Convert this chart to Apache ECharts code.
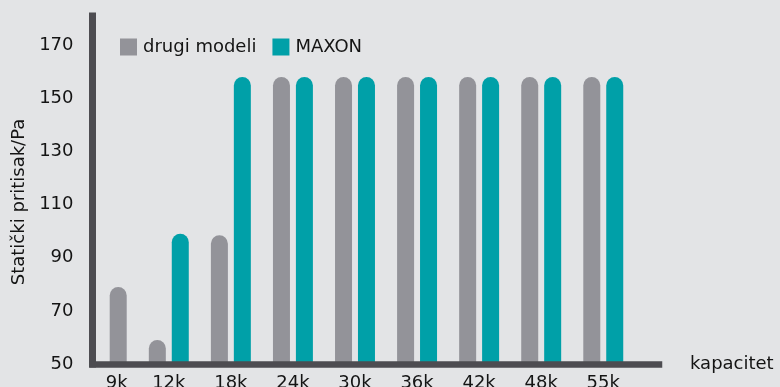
<!DOCTYPE html>
<html>
<head>
<meta charset="utf-8">
<script src="https://cdn.jsdelivr.net/npm/echarts@6/dist/echarts.min.js"></script>
<style>
  html, body { margin: 0; padding: 0; background: #e3e4e6; }
  #chart { width: 780px; height: 387px; }
</style>
</head>
<body>
<div id="chart"></div>
<script>
// Capacity classes on the x axis
const categories = ['9k', '12k', '18k', '24k', '30k', '36k', '42k', '48k', '55k'];
// Static pressure (Pa) per capacity class
const drugiModeli = [79, 59, 98.5, 158, 158, 158, 158, 158, 158];
const maxon = [null, 99, 158, 158, 158, 158, 158, 158, 158];
// Value axis ticks
const yMin = 50;
const yMax = 181;
const yStep = 20;

const FONT = 'DejaVu Sans';
const GRAY = '#939399';
const TEAL = '#00a0a8';
const AXIS = '#4d4c51';
const TEXT = '#141414';

// Where a class has no MAXON value, its "drugi modeli" bar takes the single slot
const grayPaired = drugiModeli.map((v, i) => (maxon[i] == null ? null : v));
const graySolo = drugiModeli.map((v, i) => (maxon[i] == null ? v : null));

const barStyle = (color) => ({ color: color, borderRadius: [8.5, 8.5, 0, 0] });

const chart = echarts.init(document.getElementById('chart'));
chart.setOption({
  backgroundColor: '#e3e4e6',
  animation: false,
  textStyle: { fontFamily: FONT },
  legend: {
    data: ['drugi modeli', 'MAXON'],
    left: 120,
    top: 38,
    padding: 0,
    icon: 'rect',
    itemWidth: 17,
    itemHeight: 17,
    itemGap: 16,
    textStyle: { fontFamily: FONT, fontSize: 18, color: TEXT, padding: [0, 0, 0, 1] }
  },
  grid: [
    { left: 92.5, right: 121, top: 16, bottom: 23, outerBoundsMode: 'none' },
    { left: 75.7, right: 145.7, top: 16, bottom: 23, outerBoundsMode: 'none' }
  ],
  xAxis: [
    {
      type: 'category',
      gridIndex: 0,
      data: categories,
      z: 5,
      name: 'kapacitet',
      nameLocation: 'end',
      nameGap: 31,
      nameTextStyle: { fontFamily: FONT, fontSize: 18, color: TEXT, padding: [0, 0, 22, 0] },
      axisLine: { onZero: false, lineStyle: { color: AXIS, width: 6.5, cap: 'square' } },
      axisTick: { show: false },
      axisLabel: { show: false },
      splitLine: { show: false }
    },
    {
      type: 'category',
      gridIndex: 1,
      data: categories,
      axisLine: { show: false },
      axisTick: { show: false },
      axisLabel: {
        interval: 0,
        fontFamily: FONT,
        fontSize: 18,
        color: TEXT,
        margin: 10,
        // a class with a single bar gets its label centred over that bar
        formatter: (v, i) => (maxon[i] == null ? '{solo|' + v + '}' : v),
        rich: { solo: { fontFamily: FONT, fontSize: 18, color: TEXT, padding: [0, 0, 0, 20] } }
      },
      splitLine: { show: false }
    }
  ],
  yAxis: [
    {
      type: 'value',
      gridIndex: 0,
      min: yMin,
      max: yMax,
      interval: yStep,
      z: 5,
      name: 'Statički pritisak/Pa',
      nameLocation: 'middle',
      nameGap: 62,
      nameTextStyle: { fontFamily: FONT, fontSize: 18, color: TEXT, padding: [0, 24, 0, 0] },
      axisLine: { show: true, lineStyle: { color: AXIS, width: 7, cap: 'square' } },
      axisTick: { show: false },
      axisLabel: { fontFamily: FONT, fontSize: 18, color: TEXT, margin: 19, showMaxLabel: false },
      splitLine: { show: false }
    },
    {
      type: 'value',
      gridIndex: 1,
      min: yMin,
      max: yMax,
      interval: yStep,
      show: false,
      splitLine: { show: false }
    }
  ],
  series: [
    {
      name: 'drugi modeli',
      type: 'bar',
      xAxisIndex: 1,
      yAxisIndex: 1,
      barWidth: 17,
      barGap: '35%',
      data: grayPaired,
      itemStyle: barStyle(GRAY)
    },
    {
      name: 'MAXON',
      type: 'bar',
      xAxisIndex: 1,
      yAxisIndex: 1,
      stack: 'second',
      barWidth: 17,
      barGap: '35%',
      data: maxon,
      itemStyle: barStyle(TEAL)
    },
    {
      name: 'drugi modeli',
      type: 'bar',
      xAxisIndex: 1,
      yAxisIndex: 1,
      stack: 'second',
      barWidth: 17,
      barGap: '35%',
      data: graySolo,
      itemStyle: barStyle(GRAY)
    }
  ]
});
</script>
</body>
</html>
